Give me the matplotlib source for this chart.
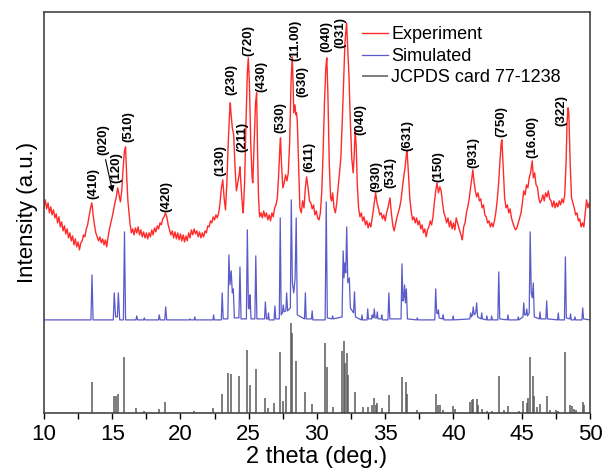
import numpy as np
import matplotlib
matplotlib.use("Agg")
import matplotlib.pyplot as plt
from matplotlib.ticker import MultipleLocator

plt.rcParams['font.family'] = ['Liberation Sans', 'DejaVu Sans']

exp_tt = [10.0, 10.1, 10.2, 10.3, 10.4, 10.5, 10.6, 10.7, 10.8, 10.9, 11.0, 11.1, 11.2, 11.3, 11.4, 11.5, 11.6, 11.7, 11.8, 11.9,
          12.0, 12.1, 12.2, 12.3, 12.4, 12.5, 12.6, 12.7, 12.8, 12.9, 13.0, 13.1, 13.2, 13.3, 13.4, 13.5, 13.55, 13.6, 13.7, 13.8,
          13.9, 14.0, 14.1, 14.2, 14.3, 14.4, 14.5, 14.6, 14.7, 14.8, 14.9, 15.0, 15.1, 15.2, 15.3, 15.4, 15.5, 15.6, 15.7, 15.8,
          15.9, 15.98, 16.05, 16.15, 16.3, 16.4, 16.5, 16.6, 16.7, 16.8, 16.9, 17.0, 17.1, 17.2, 17.3, 17.4, 17.5, 17.6, 17.7, 17.8,
          17.9, 18.0, 18.1, 18.2, 18.3, 18.4, 18.5, 18.6, 18.7, 18.8, 18.9, 19.0, 19.1, 19.2, 19.3, 19.4, 19.5, 19.6, 19.7, 19.8,
          19.9, 20.0, 20.1, 20.2, 20.3, 20.4, 20.5, 20.6, 20.7, 20.8, 20.9, 21.0, 21.1, 21.2, 21.3, 21.4, 21.5, 21.6, 21.7, 21.8,
          21.9, 22.0, 22.1, 22.2, 22.3, 22.4, 22.5, 22.6, 22.7, 22.8, 22.9, 23.0, 23.1, 23.2, 23.3, 23.4, 23.5, 23.6, 23.65, 23.7,
          23.8, 23.9, 24.0, 24.1, 24.2, 24.3, 24.36, 24.45, 24.55, 24.6, 24.7, 24.8, 24.9, 24.97, 25.05, 25.15, 25.25, 25.3, 25.4, 25.5,
          25.58, 25.65, 25.72, 25.8, 25.9, 26.0, 26.1, 26.2, 26.3, 26.4, 26.5, 26.6, 26.7, 26.8, 26.9, 27.0, 27.1, 27.2, 27.3, 27.33,
          27.4, 27.5, 27.6, 27.7, 27.8, 27.9, 28.0, 28.1, 28.19, 28.25, 28.3, 28.39, 28.45, 28.5, 28.56, 28.65, 28.75, 28.85, 28.95, 29.05,
          29.15, 29.24, 29.35, 29.45, 29.55, 29.65, 29.75, 29.85, 29.95, 30.05, 30.15, 30.25, 30.35, 30.45, 30.55, 30.65, 30.72, 30.8, 30.9, 31.0,
          31.07, 31.15, 31.25, 31.35, 31.45, 31.55, 31.65, 31.75, 31.85, 31.95, 32.05, 32.17, 32.25, 32.35, 32.45, 32.55, 32.65, 32.72, 32.8, 32.88,
          32.95, 33.05, 33.15, 33.25, 33.35, 33.45, 33.55, 33.65, 33.75, 33.85, 33.95, 34.05, 34.15, 34.3, 34.4, 34.5, 34.6, 34.7, 34.8, 34.9,
          35.0, 35.1, 35.2, 35.3, 35.35, 35.45, 35.55, 35.65, 35.75, 35.85, 35.95, 36.05, 36.15, 36.3, 36.45, 36.55, 36.6, 36.7, 36.8, 36.9,
          37.0, 37.1, 37.2, 37.3, 37.4, 37.5, 37.6, 37.7, 37.8, 37.9, 38.0, 38.1, 38.2, 38.3, 38.4, 38.5, 38.6, 38.7, 38.8, 38.9,
          39.0, 39.1, 39.2, 39.3, 39.4, 39.5, 39.6, 39.7, 39.8, 39.9, 40.0, 40.1, 40.2, 40.3, 40.4, 40.5, 40.6, 40.65, 40.75, 40.85,
          40.95, 41.05, 41.15, 41.25, 41.35, 41.42, 41.5, 41.6, 41.7, 41.8, 41.9, 42.0, 42.1, 42.2, 42.3, 42.4, 42.5, 42.6, 42.7, 42.8,
          42.9, 43.0, 43.1, 43.2, 43.3, 43.4, 43.5, 43.55, 43.65, 43.75, 43.85, 43.95, 44.05, 44.15, 44.25, 44.35, 44.45, 44.55, 44.65, 44.75,
          44.85, 44.95, 45.05, 45.15, 45.25, 45.35, 45.45, 45.55, 45.65, 45.77, 45.85, 45.95, 46.05, 46.15, 46.25, 46.35, 46.45, 46.55, 46.65, 46.75,
          46.85, 46.95, 47.05, 47.15, 47.25, 47.35, 47.45, 47.55, 47.65, 47.75, 47.85, 47.95, 48.05, 48.15, 48.25, 48.32, 48.4, 48.45, 48.55, 48.65,
          48.75, 48.85, 48.95, 49.05, 49.15, 49.25, 49.35, 49.45, 49.55, 49.65, 49.75, 49.85, 49.95, 50.0]
exp_int = [205, 213, 204, 210, 200, 206, 198, 203, 195, 199, 190, 196, 186, 191, 182, 187, 179, 184, 175, 180,
           172, 177, 168, 174, 166, 171, 163, 170, 172, 178, 176, 184, 188, 196, 204, 210, 206, 198, 188, 180,
           176, 172, 176, 170, 174, 168, 173, 166, 176, 184, 190, 196, 203, 210, 216, 225, 218, 211, 222, 245,
           262, 266, 240, 212, 190, 180, 184, 178, 185, 180, 186, 178, 183, 176, 181, 175, 180, 174, 180, 176,
           183, 178, 185, 181, 187, 184, 190, 188, 194, 196, 200, 196, 188, 183, 178, 182, 175, 181, 174, 180,
           173, 179, 172, 178, 171, 177, 172, 180, 175, 183, 178, 184, 179, 182, 176, 181, 175, 180, 176, 182,
           180, 187, 186, 192, 190, 196, 193, 198, 195, 200, 210, 225, 233, 215, 203, 230, 270, 300, 310, 300,
           285, 278, 245, 222, 230, 238, 246, 225, 205, 200, 230, 290, 340, 355, 330, 270, 235, 230, 270, 310,
           320, 260, 215, 196, 200, 195, 202, 196, 200, 193, 198, 192, 200, 196, 205, 208, 215, 240, 270, 275,
           250, 225, 230, 238, 232, 240, 270, 330, 356, 330, 300, 308, 298, 300, 292, 250, 205, 200, 212, 205,
           225, 236, 225, 212, 210, 204, 208, 198, 202, 195, 193, 200, 220, 260, 310, 345, 355, 320, 250, 215,
           212, 220, 205, 200, 210, 225, 240, 255, 290, 330, 370, 390, 365, 335, 290, 255, 240, 255, 283, 265,
           230, 205, 196, 200, 192, 196, 188, 192, 185, 190, 186, 195, 205, 220, 210, 205, 198, 200, 194, 198,
           192, 200, 205, 212, 215, 200, 188, 182, 188, 195, 200, 205, 212, 230, 245, 258, 262, 240, 215, 202,
           193, 196, 190, 195, 188, 192, 184, 188, 180, 184, 176, 183, 186, 192, 188, 196, 210, 222, 230, 220,
           226, 222, 210, 200, 196, 190, 195, 186, 192, 184, 190, 183, 195, 190, 185, 180, 176, 173, 186, 190,
           200, 206, 214, 225, 235, 243, 232, 222, 216, 220, 212, 214, 205, 208, 198, 196, 190, 192, 186, 190,
           186, 192, 200, 212, 228, 250, 270, 273, 245, 215, 205, 208, 200, 204, 195, 190, 186, 183, 185, 190,
           195, 200, 210, 222, 218, 228, 225, 235, 240, 252, 235, 240, 228, 226, 215, 210, 213, 218, 212, 220,
           216, 222, 214, 212, 206, 212, 205, 210, 206, 212, 208, 214, 210, 218, 250, 290, 305, 300, 250, 215,
           210, 205, 198, 200, 192, 194, 186, 190, 186, 200, 213, 205, 210, 206]

# simulated pattern
sim_tt = [10.0, 13.44, 13.52, 13.6, 15.08, 15.15, 15.25, 15.38, 15.45, 15.55, 15.82, 15.9, 15.98, 16.74, 16.8, 16.86, 17.3, 17.35, 17.4, 18.39,
          18.45, 18.51, 18.85, 18.92, 18.99, 20.65, 20.7, 20.75, 21.0, 21.05, 21.1, 22.38, 22.43, 22.48, 22.99, 23.06, 23.13, 23.47, 23.55, 23.63,
          23.72, 23.8, 23.87, 23.95, 24.28, 24.36, 24.44, 24.83, 24.9, 24.98, 25.05, 25.1, 25.17, 25.45, 25.52, 25.6, 26.16, 26.22, 26.3, 26.4,
          26.45, 26.5, 26.86, 26.92, 26.98, 27.24, 27.31, 27.38, 27.47, 27.53, 27.6, 27.72, 27.78, 27.85, 28.05, 28.12, 28.2, 28.3, 28.4, 28.48,
          28.56, 29.09, 29.15, 29.21, 29.6, 29.65, 29.7, 30.6, 30.68, 30.76, 31.1, 31.15, 31.2, 31.84, 31.92, 31.98, 32.05, 32.11, 32.18, 32.26,
          32.37, 32.45, 32.68, 32.75, 32.82, 33.25, 33.3, 33.35, 33.67, 33.72, 33.77, 34.0, 34.05, 34.1, 34.15, 34.2, 34.26, 34.37, 34.42, 34.47,
          34.7, 34.75, 34.8, 35.2, 35.27, 35.34, 36.16, 36.23, 36.3, 36.36, 36.42, 36.48, 36.55, 36.63, 37.3, 37.35, 37.4, 38.63, 38.7, 38.77,
          38.85, 38.9, 38.95, 39.2, 39.25, 39.3, 39.93, 39.98, 40.03, 41.2, 41.26, 41.32, 41.39, 41.45, 41.52, 41.63, 41.7, 41.77, 42.02, 42.07,
          42.12, 42.4, 42.45, 42.5, 42.75, 42.8, 42.85, 43.25, 43.32, 43.39, 43.94, 43.99, 44.04, 44.7, 44.75, 44.8, 45.09, 45.15, 45.21, 45.31,
          45.37, 45.43, 45.55, 45.62, 45.7, 45.78, 45.85, 45.92, 46.29, 46.34, 46.39, 46.77, 46.83, 46.89, 47.63, 47.68, 47.73, 48.13, 48.2, 48.27,
          48.53, 48.58, 48.63, 48.85, 48.9, 48.95, 49.41, 49.47, 49.53, 50.0]
sim_int = [93, 93, 138, 93, 93, 120, 96, 96, 120, 93, 93, 181, 93, 93, 97, 93, 93, 95, 93, 93,
           98, 93, 93, 106, 93, 93, 94, 93, 93, 96, 93, 93, 98, 93, 93, 120, 94, 94, 158, 128,
           142, 120, 124, 95, 95, 146, 94, 94, 183, 105, 104, 118, 94, 94, 157, 94, 94, 111, 94, 94,
           100, 93, 93, 107, 94, 94, 195, 98, 100, 108, 101, 102, 120, 102, 105, 213, 130, 120, 135, 195,
           98, 94, 120, 94, 94, 102, 93, 93, 211, 95, 94, 97, 94, 96, 162, 135, 150, 140, 186, 130,
           135, 105, 100, 121, 96, 93, 98, 93, 93, 104, 94, 94, 98, 95, 96, 104, 95, 95, 101, 94,
           94, 98, 93, 93, 120, 94, 94, 149, 112, 115, 128, 110, 124, 94, 93, 95, 93, 93, 124, 100,
           99, 103, 95, 94, 98, 93, 93, 97, 93, 94, 100, 96, 98, 106, 98, 100, 110, 96, 94, 100,
           94, 93, 97, 93, 93, 97, 93, 93, 141, 94, 93, 98, 93, 93, 96, 93, 96, 110, 98, 98,
           104, 97, 100, 181, 120, 115, 130, 96, 94, 101, 94, 94, 112, 94, 93, 100, 93, 93, 156, 95,
           94, 99, 93, 93, 96, 93, 93, 105, 94, 93]

# JCPDS card 77-1238 reflections
stick_tt = [13.54, 15.13, 15.25, 15.45, 15.88, 16.78, 17.35, 18.42, 18.89, 21.01, 22.4, 23.04, 23.5, 23.68, 24.31,
            24.85, 25.09, 25.5, 26.18, 26.45, 26.86, 27.29, 27.53, 27.73, 28.07, 28.15, 28.46, 29.12, 29.63, 30.62,
            30.74, 31.15, 31.86, 31.96, 32.06, 32.18, 32.3, 32.76, 33.35, 33.73, 34.05, 34.2, 34.32, 34.42, 34.74,
            35.26, 36.21, 36.52, 36.6, 37.35, 38.71, 38.84, 39.01, 39.25, 39.98, 40.11, 41.2, 41.33, 41.45, 41.7,
            41.82, 42.07, 42.45, 42.8, 43.3, 43.7, 43.99, 44.8, 45.11, 45.36, 45.48, 45.6, 45.8, 45.9, 46.09,
            46.34, 46.83, 47.1, 47.51, 47.68, 48.2, 48.53, 48.65, 48.8, 49.0, 49.46, 49.6]
stick_int = [31, 17, 17, 19, 56, 5, 2, 4, 11, 2, 5, 19, 40, 39, 37,
             63, 28, 44, 15, 5, 10, 61, 12, 27, 90, 80, 52, 21, 9, 70,
             46, 6, 62, 72, 50, 60, 38, 21, 6, 6, 8, 15, 8, 10, 5,
             18, 36, 31, 19, 3, 19, 8, 8, 3, 7, 4, 11, 13, 14, 14,
             8, 4, 2, 2, 37, 3, 7, 2, 12, 10, 15, 56, 37, 17, 6,
             9, 17, 3, 3, 2, 61, 8, 7, 4, 3, 11, 8]

# peak indices and label positions
hkl_text = ["(410)", "(020)", "(120)", "(510)", "(420)", "(130)", "(230)", "(211)", "(720)", "(430)",
            "(530)", "(11.00)", "(630)", "(611)", "(040)", "(031)", "(040)", "(930)", "(531)", "(631)",
            "(150)", "(931)", "(750)", "(16.00)", "(322)"]
hkl_tt = [13.61, 14.34, 15.33, 16.18, 18.99, 22.95, 23.75, 24.53, 24.97, 25.95,
          27.34, 28.39, 28.95, 29.44, 30.71, 31.68, 33.15, 34.32, 35.35, 36.62,
          38.89, 41.45, 43.53, 45.77, 47.93]
hkl_int = [229, 273, 245, 286, 216, 252, 333, 276, 372, 336,
           295, 372, 331, 256, 376, 380, 293, 236, 240, 277,
           246, 260, 291, 276, 302]

fig = plt.figure(figsize=(6.02, 4.73), dpi=100)
ax = fig.add_axes([0.073, 0.127, 0.907, 0.848])

ax.plot(exp_tt, exp_int, color='#ff2a2a', lw=1.0, label='Experiment')
ax.plot(sim_tt, sim_int, color='#5a5ac8', lw=0.9, label='Simulated')
ax.vlines(stick_tt, 0, stick_int, color='#5a5a5a', lw=1.1, label='JCPDS card 77-1238')

for t, x, y in zip(hkl_text, hkl_tt, hkl_int):
    ax.text(x, y, t, rotation=90, ha='center', va='center', fontsize=9.5, fontweight='bold')

# arrow pointing (020) to its peak
ax.annotate('', xy=(15.08, 218), xytext=(14.47, 256),
            arrowprops=dict(arrowstyle='-|>', color='black', lw=0.8, mutation_scale=9))

ax.set_xlim(10, 50)
ax.set_ylim(0, 401)
ax.xaxis.set_major_locator(MultipleLocator(5))
ax.xaxis.set_minor_locator(MultipleLocator(2.5))
ax.tick_params(axis='x', which='both', direction='out', length=4, width=1, labelsize=16, pad=4)
ax.set_yticks([])
ax.set_xlabel('2 theta (deg.)', fontsize=17, labelpad=1)
ax.set_ylabel('Intensity (a.u.)', fontsize=16, labelpad=4)
for s in ax.spines.values():
    s.set_color('#444444')
    s.set_linewidth(1.2)

ax.legend(loc='upper left', bbox_to_anchor=(0.56, 0.995), frameon=False, fontsize=13,
          handlelength=1.4, handletextpad=0.2, labelspacing=0.25, borderaxespad=0.3)

fig.savefig('out.png', dpi=100)
